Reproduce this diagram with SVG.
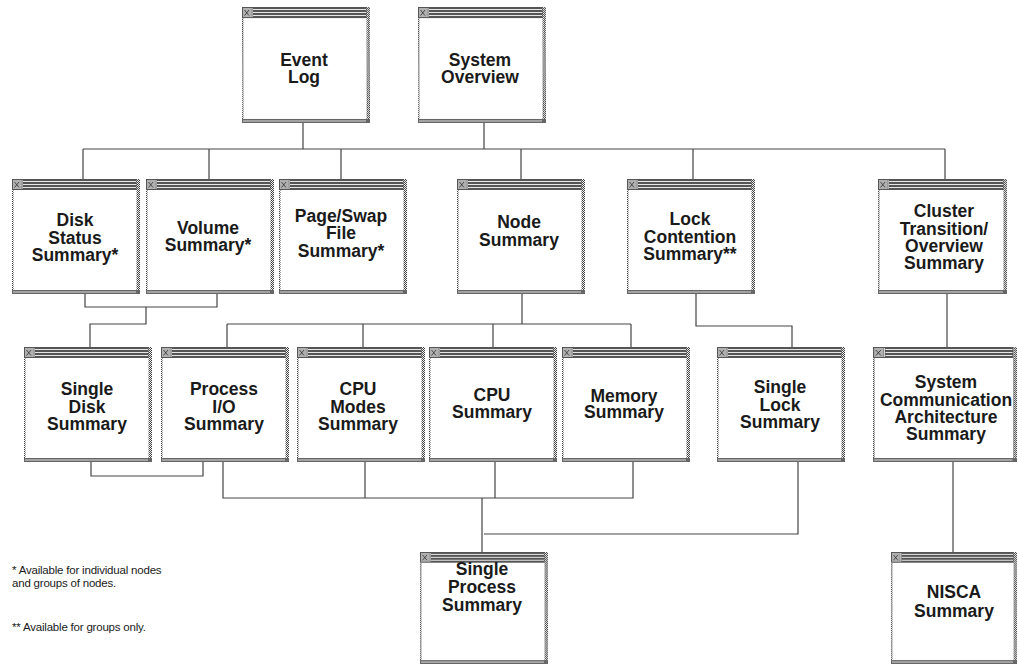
<svg xmlns="http://www.w3.org/2000/svg" xmlns:xlink="http://www.w3.org/1999/xlink" width="1018" height="665" viewBox="0 0 1018 665">
<style>
.lbl{font-family:"Liberation Sans",Arial,sans-serif;font-weight:bold;font-size:17.5px;fill:#1a1a1a;text-anchor:middle}
.note{font-family:"Liberation Sans",Arial,sans-serif;font-size:11.5px;fill:#1a1a1a;letter-spacing:-0.2px}
.conn path{fill:none;stroke:#444;stroke-width:1.2}
</style>
<defs>
<pattern id="stip" width="2" height="2" patternUnits="userSpaceOnUse"><rect width="2" height="2" fill="#eee"/><rect width="1" height="1" fill="#444"/><rect x="1" y="1" width="1" height="1" fill="#444"/></pattern>
<symbol id="win" viewBox="0 0 128 115" preserveAspectRatio="none">
<rect x="0" y="0" width="128" height="115" fill="#fff"/>
<rect x="0" y="0" width="128" height="11" fill="#555"/>
<path d="M11 2.5H124M11 5.5H124M11 8.5H124" stroke="#e6e6e6" stroke-width="1"/>
<rect x="1" y="1" width="8" height="9" fill="#b0b0b0"/>
<path d="M2.5 3L7 8.5M7 3L2.5 8.5" stroke="#333" stroke-width="0.8"/>
<rect x="9.5" y="1" width="1" height="9" fill="#eee"/>
<rect x="0" y="11" width="1.5" height="104" fill="url(#stip)"/>
<rect x="124.5" y="0" width="3.5" height="115" fill="url(#stip)"/>
<rect x="0" y="111" width="128" height="4" fill="#666"/>
<path d="M1 113H124" stroke="#ddd" stroke-width="1"/>
</symbol>
</defs>

<g class="conn" id="connectors">
<path d="M303 122V149M484 122V149M83 149H945"/>
<path d="M83 149V179M209 149V179M341 149V179M521 149V179M693 149V179M945 149V179"/>
<path d="M85 293V307H217V293M146 307V324H90V347"/>
<path d="M522 293V324M227 324H631M227 324V347M363 324V347M493 324V347M631 324V347"/>
<path d="M696 293V326H792V347"/>
<path d="M947 293V347"/>
<path d="M91 461V476H203V461"/>
<path d="M223 461V498H633V461M365 461V498M495 461V498"/>
<path d="M482 498V552M484 534H798V461"/>
<path d="M953 461V552"/>
</g>

<g id="event-log"><use href="#win" x="242" y="7" width="128" height="116"/>
<text class="lbl"><tspan x="304" y="66">Event</tspan><tspan x="304" y="83">Log</tspan></text></g>
<g id="system-overview"><use href="#win" x="418" y="7" width="128" height="116"/>
<text class="lbl"><tspan x="480" y="66">System</tspan><tspan x="480" y="83">Overview</tspan></text></g>

<g id="disk-status"><use href="#win" x="12" y="179" width="128" height="115"/>
<text class="lbl"><tspan x="75" y="226">Disk</tspan><tspan x="75" y="243.5">Status</tspan><tspan x="75" y="261">Summary*</tspan></text></g>
<g id="volume-summary"><use href="#win" x="146" y="179" width="128" height="115"/>
<text class="lbl"><tspan x="208" y="234">Volume</tspan><tspan x="208" y="251">Summary*</tspan></text></g>
<g id="page-swap"><use href="#win" x="279" y="179" width="128" height="115"/>
<text class="lbl"><tspan x="341" y="222">Page/Swap</tspan><tspan x="341" y="239">File</tspan><tspan x="341" y="257">Summary*</tspan></text></g>
<g id="node-summary"><use href="#win" x="457" y="179" width="128" height="115"/>
<text class="lbl"><tspan x="519" y="228">Node</tspan><tspan x="519" y="246">Summary</tspan></text></g>
<g id="lock-contention"><use href="#win" x="627" y="179" width="128" height="115"/>
<text class="lbl"><tspan x="690" y="225">Lock</tspan><tspan x="690" y="243">Contention</tspan><tspan x="690" y="260">Summary**</tspan></text></g>
<g id="cluster-transition"><use href="#win" x="878" y="179" width="129" height="115"/>
<text class="lbl"><tspan x="944" y="217">Cluster</tspan><tspan x="944" y="234.5">Transition/</tspan><tspan x="944" y="252">Overview</tspan><tspan x="944" y="269">Summary</tspan></text></g>

<g id="single-disk"><use href="#win" x="24" y="347" width="128" height="115"/>
<text class="lbl"><tspan x="87" y="395">Single</tspan><tspan x="87" y="412.5">Disk</tspan><tspan x="87" y="430">Summary</tspan></text></g>
<g id="process-io"><use href="#win" x="161" y="347" width="128" height="115"/>
<text class="lbl"><tspan x="224" y="395">Process</tspan><tspan x="224" y="412.5">I/O</tspan><tspan x="224" y="430">Summary</tspan></text></g>
<g id="cpu-modes"><use href="#win" x="297" y="347" width="128" height="115"/>
<text class="lbl"><tspan x="358" y="395">CPU</tspan><tspan x="358" y="412.5">Modes</tspan><tspan x="358" y="430">Summary</tspan></text></g>
<g id="cpu-summary"><use href="#win" x="429" y="347" width="128" height="115"/>
<text class="lbl"><tspan x="492" y="401">CPU</tspan><tspan x="492" y="418">Summary</tspan></text></g>
<g id="memory-summary"><use href="#win" x="562" y="347" width="128" height="115"/>
<text class="lbl"><tspan x="624" y="402">Memory</tspan><tspan x="624" y="418">Summary</tspan></text></g>
<g id="single-lock"><use href="#win" x="717" y="347" width="128" height="115"/>
<text class="lbl"><tspan x="780" y="393">Single</tspan><tspan x="780" y="411">Lock</tspan><tspan x="780" y="428">Summary</tspan></text></g>
<g id="sca-summary"><use href="#win" x="873" y="347" width="144" height="115"/>
<text class="lbl"><tspan x="946" y="388">System</tspan><tspan x="946" y="405.5">Communication</tspan><tspan x="946" y="423">Architecture</tspan><tspan x="946" y="440">Summary</tspan></text></g>

<g id="single-process"><use href="#win" x="420" y="552" width="128" height="112"/>
<text class="lbl"><tspan x="482" y="575">Single</tspan><tspan x="482" y="593">Process</tspan><tspan x="482" y="611">Summary</tspan></text></g>
<g id="nisca-summary"><use href="#win" x="891" y="552" width="126" height="112"/>
<text class="lbl"><tspan x="954" y="598">NISCA</tspan><tspan x="954" y="617">Summary</tspan></text></g>

<g id="footnotes">
<text class="note"><tspan x="12" y="574">* Available for individual nodes</tspan><tspan x="12" y="587">and groups of nodes.</tspan><tspan x="12" y="631">** Available for groups only.</tspan></text>
</g>
</svg>
